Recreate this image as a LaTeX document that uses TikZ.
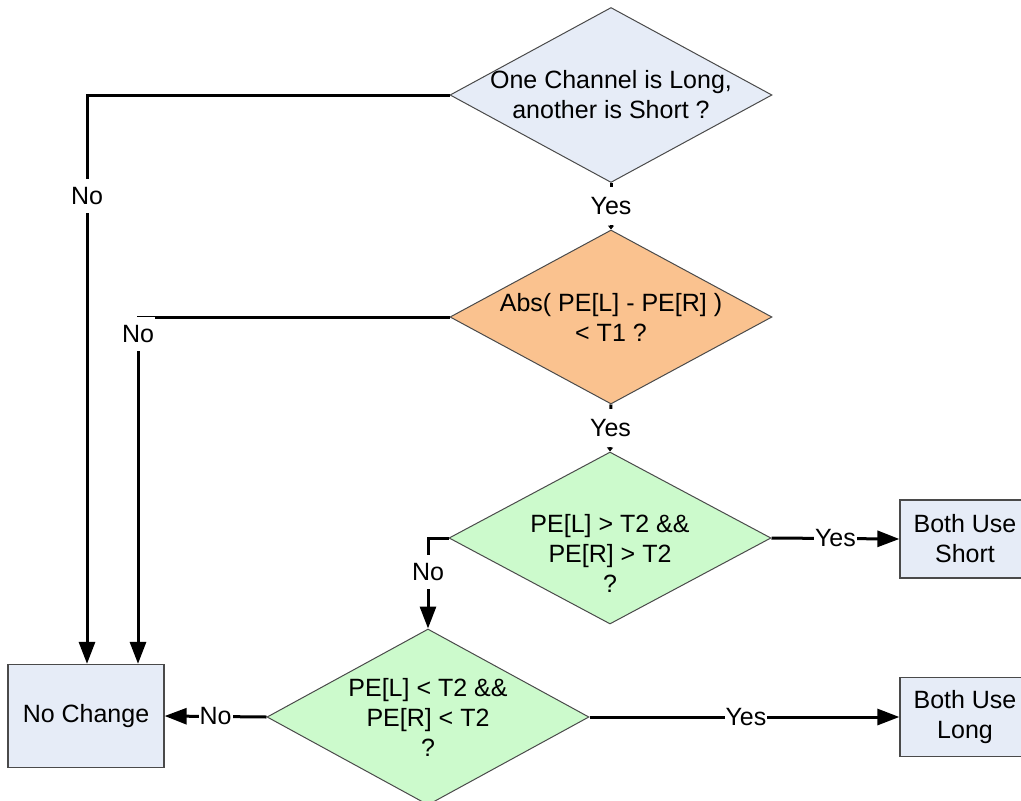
\documentclass[tikz,border=0pt]{standalone}
\usepackage{fontspec}
\setmainfont{Liberation Sans}
\usetikzlibrary{shapes.geometric,arrows.meta}
\definecolor{paleblue}{HTML}{E6ECF7}
\definecolor{peach}{HTML}{FAC28F}
\definecolor{mint}{HTML}{CCFACC}
\definecolor{edgegray}{HTML}{4A4A4A}
\begin{document}
\begin{tikzpicture}[x=1pt,y=-1pt,
  font=\fontsize{25}{30}\selectfont,
  decision/.style={diamond, draw=edgegray, line width=1pt,
    minimum width=322pt, minimum height=#1, inner sep=0pt},
  txt/.style={align=center, inner sep=0pt, font=\fontsize{25}{30}\selectfont},
  result/.style={rectangle, draw=edgegray, line width=1.3pt, fill=paleblue,
    align=center, inner sep=0pt},
  flow/.style={line width=3pt, -{Triangle[length=22pt,width=16pt]}},
  thinflow/.style={line width=3pt, -{Triangle[length=4pt,width=6pt]}},
  lbl/.style={fill=white, inner xsep=1pt, inner ysep=0pt, minimum height=34pt,
    font=\fontsize{25}{30}\selectfont},
  hlbl/.style={fill=white, inner xsep=1pt, inner ysep=2pt,
    font=\fontsize{25}{30}\selectfont}
]
\useasboundingbox (0,0) rectangle (1021,801);
\clip (0,0) rectangle (1021,801);

% decisions
\node[decision=175pt, fill=paleblue,
  label={[txt]center:One Channel is Long,\\another is Short ?}] (d1) at (611,95) {};
\node[decision=174pt, fill=peach,
  label={[txt]center:Abs( PE[L] - PE[R] )\\< T1 ?}] (d2) at (611,317) {};
\node[decision=172pt, fill=mint,
  label={[txt,yshift=-15pt]center:PE[L] > T2 \&\&\\PE[R] > T2\\?}] (d3) at (610,538) {};
\node[decision=176pt, fill=mint,
  label={[txt]center:PE[L] < T2 \&\&\\PE[R] < T2\\?}] (d4) at (428,717) {};

% outcomes
\node[result, minimum width=156pt, minimum height=103pt] (nc) at (86,716) {No Change};
\node[result, minimum width=130pt, minimum height=78pt] (bs) at (965,539) {Both Use\\Short};
\node[result, minimum width=130pt, minimum height=79pt] (bl) at (965,717) {Both Use\\Long};

% drop columns into the "No Change" box
\coordinate (c1) at (87,0);
\coordinate (c2) at (138,0);

% connectors
\draw[thinflow] (d1.south) -- node[lbl, minimum height=38pt]{Yes} (d2.north);
\draw[thinflow] (d2.south) -- node[lbl, minimum height=38pt]{Yes} (d3.north);
\draw[flow] (d1.west) -| node[lbl, pos=0.589]{No} (c1 |- nc.north);
\draw[flow] (d2.west) -| node[lbl, pos=0.5, yshift=-17pt]{No} (c2 |- nc.north);
\draw[flow] (d3.west) -| node[lbl, pos=0.69]{No} (d4.north);
\draw[flow] (d3.east) -- node[hlbl]{Yes} (bs.west);
\draw[flow] (d4.east) -- node[hlbl, pos=0.505]{Yes} (bl.west);
\draw[flow] (d4.west) -- node[hlbl]{No} (nc.east);
\end{tikzpicture}
\end{document}
